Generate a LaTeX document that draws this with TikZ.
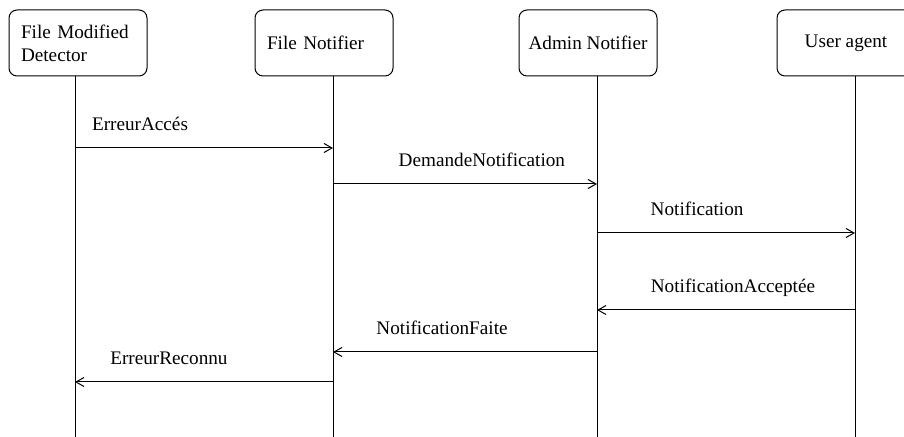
\documentclass[tikz,border=0pt]{standalone}
\usepackage{fontspec}
\setmainfont{Liberation Serif}
\usetikzlibrary{shapes,arrows.meta}

\begin{document}
\begin{tikzpicture}[x=0.5pt, y=-0.5pt, node distance=123pt,
	font=\fontsize{9.6}{11.5}\selectfont, line width=0.5pt,
	>={Straight Barb[length=4pt,width=4.5pt]},
	actor/.style={draw, rectangle, rounded corners=4pt, minimum width=69pt, minimum height=33pt, inner sep=0pt},
	leftbox/.style={align=left, text width=57pt, inner xsep=6pt},
	msg/.style={->},
	msgtext/.style={anchor=base, yshift=8.5pt}]
	\useasboundingbox (0,0) rectangle (904,437);

	\node[actor,leftbox] (fmd) at (78,43) {File Modified\\Detector};
	\node[actor,leftbox,right of=fmd] (fn) {File Notifier};
	\node[actor,right of=fn,node distance=132pt] (an) {Admin Notifier};
	\node[actor,right of=an,node distance=129pt] (ua) {User agent};

	\node[below of=fmd,node distance=197pt,xshift=-1.5pt] (fmdend) {};
	\node[below of=fn,node distance=197pt,xshift=4.5pt] (fnend) {};
	\node[below of=an,node distance=197pt,xshift=4.5pt] (anend) {};
	\node[below of=ua,node distance=197pt,xshift=4.5pt] (uaend) {};

    \draw (fmdend.center |- fmd.south) -- (fmdend.center);
    \draw (fnend.center |- fn.south) -- (fnend.center);
    \draw (anend.center |- an.south) -- (anend.center);
    \draw (uaend.center |- ua.south) -- (uaend.center);

	\coordinate (m1) at (0,148);
	\coordinate (m2) at (0,184);
	\coordinate (m3) at (0,233);
	\coordinate (m4) at (0,310);
	\coordinate (m5) at (0,352);
	\coordinate (m6) at (0,382);

    \draw[msg] (fmdend.center |- m1) -- node[msgtext,pos=.252] {ErreurAccés} (fnend.center |- m1);
    \draw[msg] (fnend.center |- m2) -- node[msgtext,pos=.564] {DemandeNotification} (anend.center |- m2);
    \draw[msg] (anend.center |- m3) -- node[msgtext,pos=.388] {Notification} (uaend.center |- m3);
    \draw[msg] (uaend.center |- m4) -- node[msgtext,pos=.473] {NotificationAcceptée} (anend.center |- m4);
    \draw[msg] (anend.center |- m5) -- node[msgtext,pos=.587] {NotificationFaite} (fnend.center |- m5);
    \draw[msg] (fnend.center |- m6) -- node[msgtext,pos=.636] {ErreurReconnu} (fmdend.center |- m6);
\end{tikzpicture}
\end{document}
